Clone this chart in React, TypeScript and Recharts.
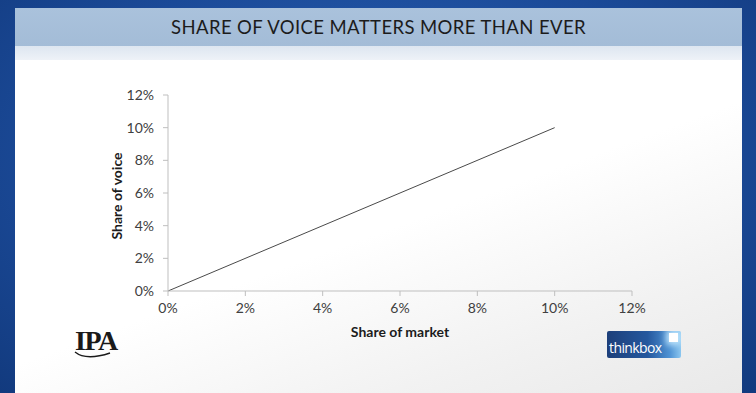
import { Label, Line, LineChart, XAxis, YAxis } from 'recharts'

// share of market (x) vs share of voice (y), both as fractions
const marketShare = [0, 0.1]
const voiceShare = [0, 0.1]
const axisTicks = [0, 0.02, 0.04, 0.06, 0.08, 0.1, 0.12]

const TITLE = 'SHARE OF VOICE MATTERS MORE THAN EVER'
const X_TITLE = 'Share of market'
const Y_TITLE = 'Share of voice'

const chartData = marketShare.map((x, i) => ({ x, y: voiceShare[i] }))

const pct = (v: number) => `${Math.round(v * 100)}%`

const FONT = 'Lato, "Open Sans", sans-serif'
const tickStyle = { fill: '#404040', fontSize: 14, fontFamily: FONT }

export default function App() {
  return (
    <div
      style={{
        position: 'fixed',
        left: 0,
        top: 0,
        width: 756,
        height: 393,
        overflow: 'hidden',
        background: 'radial-gradient(ellipse at 50% 40%, #2a62b4 0%, #1b4a98 60%, #123a7e 100%)',
      }}
    >
      {/* slide panel */}
      <div
        style={{
          position: 'absolute',
          left: 15,
          top: 8,
          width: 727,
          height: 385,
          background: 'linear-gradient(160deg, #ffffff 55%, #f2f2f2 80%, #e9e9e9 100%)',
        }}
      >
        <div
          style={{
            height: 38,
            background: 'linear-gradient(180deg, #aac2dc 0%, #a3bcd7 100%)',
            display: 'flex',
            alignItems: 'center',
            justifyContent: 'center',
            fontFamily: FONT,
            fontSize: 18.5,
            color: '#1c1c1c',
            letterSpacing: 0.4,
          }}
        >
          {TITLE}
        </div>
        <div style={{ height: 14, background: 'linear-gradient(180deg, #dde6f0, #eef2f7)' }} />
      </div>

      <div style={{ position: 'absolute', left: 0, top: 0 }}>
        <LineChart
          width={756}
          height={393}
          data={chartData}
          margin={{ top: 95, right: 124, bottom: 72, left: 118 }}
        >
          <XAxis
            dataKey="x"
            type="number"
            domain={[0, 0.12]}
            ticks={axisTicks}
            tickFormatter={pct}
            stroke="#bfbfbf"
            tick={tickStyle}
            tickSize={5}
            tickMargin={7}
            height={30}
          >
            <Label
              content={() => (
                <text
                  x={400}
                  y={331}
                  textAnchor="middle"
                  dominantBaseline="central"
                  style={{ fontFamily: FONT, fontSize: 14, fontWeight: 700, fill: '#1c1c1c' }}
                >
                  {X_TITLE}
                </text>
              )}
            />
          </XAxis>
          <YAxis
            dataKey="y"
            type="number"
            domain={[0, 0.12]}
            ticks={axisTicks}
            tickFormatter={pct}
            stroke="#bfbfbf"
            tick={tickStyle}
            tickSize={5}
            tickMargin={9}
            width={50}
          >
            <Label
              content={() => (
                <text
                  x={116}
                  y={196}
                  transform="rotate(-90 116 196)"
                  textAnchor="middle"
                  dominantBaseline="central"
                  style={{ fontFamily: FONT, fontSize: 14, fontWeight: 700, fill: '#1c1c1c' }}
                >
                  {Y_TITLE}
                </text>
              )}
            />
          </YAxis>
          <Line
            dataKey="y"
            stroke="#4a4a4a"
            strokeWidth={1}
            dot={false}
            isAnimationActive={false}
          />
        </LineChart>
      </div>

      {/* IPA logo */}
      <div
        style={{
          position: 'absolute',
          left: 75,
          top: 325,
          fontFamily: '"Liberation Serif", "DejaVu Serif", serif',
          fontSize: 28,
          fontWeight: 700,
          letterSpacing: -1.5,
          color: '#1a1a1a',
        }}
      >
        IPA
      </div>
      <svg style={{ position: 'absolute', left: 72, top: 348 }} width={44} height={14}>
        <path d="M3 4 Q14 13 38 5" fill="none" stroke="#1a1a1a" strokeWidth={1.4} />
      </svg>

      {/* thinkbox logo */}
      <div
        style={{
          position: 'absolute',
          left: 607,
          top: 331,
          width: 74,
          height: 27,
          background: 'linear-gradient(90deg, #1d3f7a 0%, #25589e 55%, #4f93d4 85%, #8cc7f0 100%)',
          borderRadius: 2,
          overflow: 'hidden',
        }}
      >
        <div
          style={{
            position: 'absolute',
            right: 3,
            top: 2,
            width: 9,
            height: 9,
            background: '#ffffff',
            boxShadow: '0 0 6px 3px rgba(200,235,255,0.9)',
          }}
        />
        <div
          style={{
            position: 'absolute',
            left: 2,
            top: 7,
            fontFamily: '"Open Sans", sans-serif',
            fontSize: 14,
            color: '#ffffff',
            letterSpacing: -0.6,
          }}
        >
          thinkbox
        </div>
      </div>
    </div>
  )
}
